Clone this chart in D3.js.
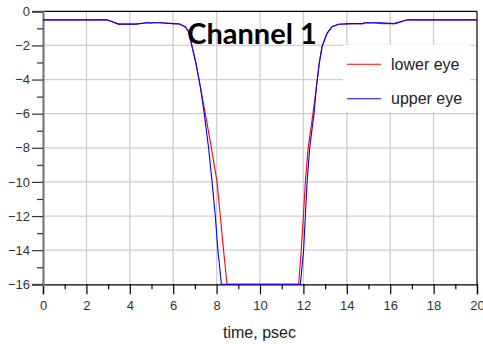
<!DOCTYPE html>
<html>
<head>
<meta charset="utf-8">
<script src="https://cdn.jsdelivr.net/npm/d3@7"></script>
<style>
  html, body { margin: 0; padding: 0; background: #fff; }
  svg { display: block; }
</style>
</head>
<body>
<svg id="chart" width="483" height="344"></svg>
<script>
// ---- data ----
const title = "Channel 1";
const xLabel = "time, psec";
const xTicks = [0, 2, 4, 6, 8, 10, 12, 14, 16, 18, 20];
const xMinorTicks = [1, 3, 5, 7, 9, 11, 13, 15, 17, 19];
const yTicks = [0, -2, -4, -6, -8, -10, -12, -14, -16];
const yMinorTicks = [-1, -3, -5, -7, -9, -11, -13, -15];
const seriesNames = ["lower eye", "upper eye"];

const lowerTime = [0, 2.95, 3.48, 4.25, 4.8, 4.95, 5.1, 5.4, 6.0, 6.3, 6.56, 6.71, 6.87, 7.05, 7.25, 7.48, 7.76, 8.02, 8.17, 8.32, 8.48, 11.78, 11.9, 12.0, 12.09, 12.22, 12.44, 12.6, 12.73, 12.86, 13.09, 13.32, 13.62, 14.24, 14.75, 14.8, 15.0, 15.2, 15.6, 16.2, 16.8, 20];
const lowerValue = [-0.5, -0.5, -0.75, -0.75, -0.67, -0.7, -0.67, -0.67, -0.72, -0.74, -0.92, -1.2, -2.07, -3.05, -4.42, -6, -8, -10, -12, -14, -16, -16, -14, -12, -10, -8, -6, -4.42, -3.05, -2.07, -1.29, -0.9, -0.76, -0.72, -0.72, -0.67, -0.7, -0.67, -0.72, -0.72, -0.5, -0.5];

const upperTime = [0, 2.95, 3.48, 4.25, 4.8, 5.4, 6.0, 6.3, 6.56, 6.71, 6.87, 7.05, 7.25, 7.43, 7.63, 7.79, 7.94, 8.06, 8.22, 11.86, 12.01, 12.09, 12.17, 12.29, 12.49, 12.6, 12.73, 12.86, 13.09, 13.32, 13.62, 14.24, 14.75, 14.8, 15.6, 16.2, 16.8, 20];
const upperValue = [-0.5, -0.5, -0.75, -0.75, -0.67, -0.67, -0.72, -0.74, -0.92, -1.2, -2.07, -3.05, -4.42, -6, -8, -10, -12, -14, -16, -16, -14, -12, -10, -8, -6, -4.42, -3.05, -2.07, -1.29, -0.9, -0.76, -0.72, -0.72, -0.67, -0.67, -0.72, -0.5, -0.5];

const colors = ["#ff0000", "#0000ff"];

// ---- layout ----
const svg = d3.select("#chart");
const mLeft = 43, mRight = 477, mTop = 11.3, mBottom = 284.3;
const x = d3.scaleLinear().domain([0, 20]).range([mLeft, mRight]);
const y = d3.scaleLinear().domain([-16, 0]).range([mBottom, mTop]);

// grid
const grid = svg.append("g").attr("stroke", "#cfcfcf").attr("stroke-width", 1.3);
grid.selectAll("line.v").data(xTicks.slice(1, -1)).join("line").attr("class", "v")
  .attr("x1", d => x(d)).attr("x2", d => x(d)).attr("y1", mTop).attr("y2", mBottom);
grid.selectAll("line.h").data(yTicks.slice(1, -1)).join("line").attr("class", "h")
  .attr("x1", mLeft).attr("x2", mRight).attr("y1", d => y(d)).attr("y2", d => y(d));

// legend background box (covers grid)
svg.append("rect").attr("x", 343).attr("y", 45).attr("width", 127).attr("height", 67).attr("fill", "#fff");

// border lines
svg.append("line").attr("x1", mLeft).attr("x2", mRight).attr("y1", mTop).attr("y2", mTop).attr("stroke", "#000").attr("stroke-width", 1.2);
svg.append("line").attr("x1", mRight).attr("x2", mRight).attr("y1", mTop).attr("y2", mBottom).attr("stroke", "#000").attr("stroke-width", 1.2);

// x axis
const xAxis = svg.append("g").attr("transform", `translate(0,${mBottom})`)
  .call(d3.axisBottom(x).tickValues(xTicks).tickSize(10).tickPadding(6).tickFormat(d3.format("d")));
xAxis.select(".domain").attr("stroke", "#000").attr("stroke-width", 1.3);
xAxis.selectAll(".tick line").attr("stroke", "#000").attr("stroke-width", 1.2);
xAxis.selectAll("text").attr("font-family", "Liberation Sans, Arial, sans-serif").attr("font-size", 13).attr("fill", "#333");
const xMinor = svg.append("g").attr("transform", `translate(0,${mBottom})`)
  .call(d3.axisBottom(x).tickValues(xMinorTicks).tickSize(5).tickFormat(""));
xMinor.select(".domain").remove();
xMinor.selectAll(".tick line").attr("stroke", "#000").attr("stroke-width", 1.2);

// y axis
const yAxis = svg.append("g").attr("transform", `translate(${mLeft},0)`)
  .call(d3.axisLeft(y).tickValues(yTicks).tickSize(11).tickPadding(2).tickFormat(d3.format("d")));
yAxis.select(".domain").attr("stroke", "#7a7a7a").attr("stroke-width", 2.2);
yAxis.selectAll(".tick line").attr("stroke", "#333").attr("stroke-width", 1.2);
yAxis.selectAll("text").attr("font-family", "Liberation Sans, Arial, sans-serif").attr("font-size", 13).attr("fill", "#333");
const yMinor = svg.append("g").attr("transform", `translate(${mLeft},0)`)
  .call(d3.axisLeft(y).tickValues(yMinorTicks).tickSize(6).tickFormat(""));
yMinor.select(".domain").remove();
yMinor.selectAll(".tick line").attr("stroke", "#333").attr("stroke-width", 1.2);

// series
const line = d3.line().x(d => x(d[0])).y(d => y(d[1]));
const series = [
  d3.zip(lowerTime, lowerValue),
  d3.zip(upperTime, upperValue)
];
svg.append("g").selectAll("path").data(series).join("path")
  .attr("d", line)
  .attr("fill", "none")
  .attr("stroke", (d, i) => colors[i])
  .attr("stroke-width", 1.1);

// title
svg.append("text").text(title)
  .attr("x", 252).attr("y", 44).attr("text-anchor", "middle")
  .attr("font-family", "Lato, sans-serif").attr("font-weight", "bold").attr("font-size", 29)
  .attr("fill", "#000");

// legend
const lg = svg.append("g");
seriesNames.forEach((name, i) => {
  const ly = 64.3 + i * 34.4;
  lg.append("line").attr("x1", 347).attr("x2", 381).attr("y1", ly).attr("y2", ly)
    .attr("stroke", colors[i]).attr("stroke-width", 1.1);
  lg.append("text").text(name).attr("x", 391).attr("y", ly + 5.5)
    .attr("font-family", "Liberation Sans, Arial, sans-serif").attr("font-size", 16).attr("fill", "#222");
});

// x label
svg.append("text").text(xLabel)
  .attr("x", 259.5).attr("y", 337.5).attr("text-anchor", "middle")
  .attr("font-family", "Liberation Sans, Arial, sans-serif").attr("font-size", 16).attr("fill", "#222");
</script>
</body>
</html>
